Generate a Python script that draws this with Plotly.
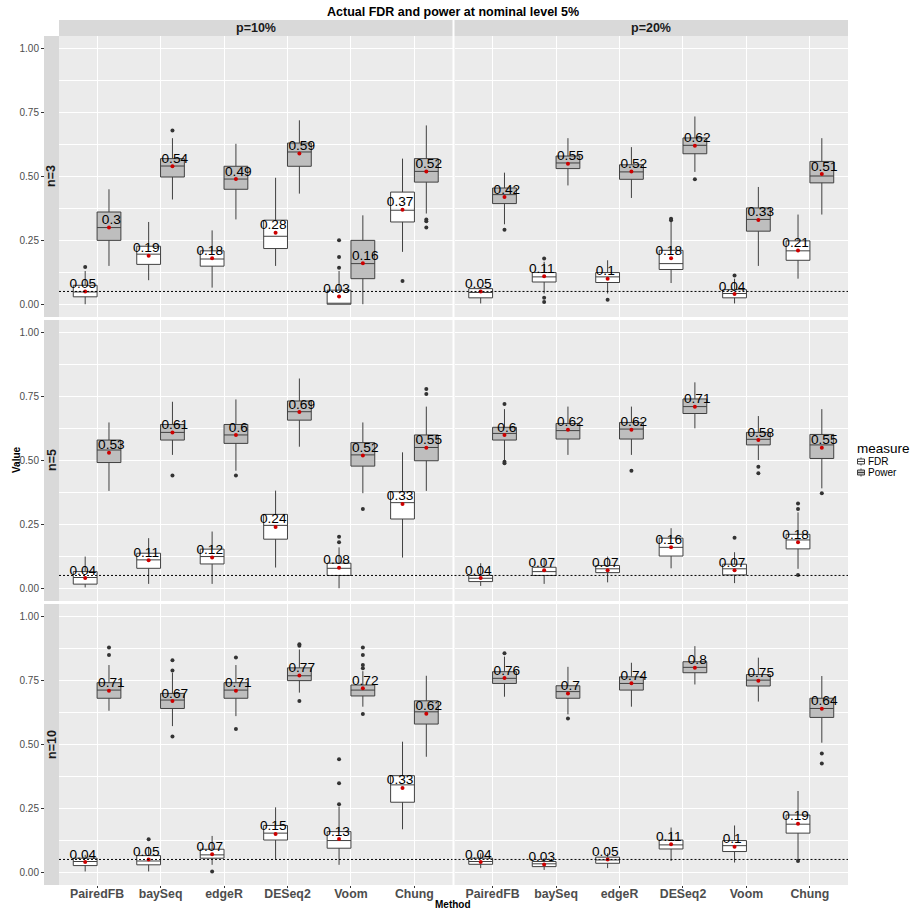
import plotly.graph_objects as go

methods = ["PairedFB", "baySeq", "edgeR", "DESeq2", "Voom", "Chung"]
row_labels = ["n=3", "n=5", "n=10"]
col_labels = ["p=10%", "p=20%"]
measures = ["FDR", "Power"]
y_tick_vals = [0.0, 0.25, 0.5, 0.75, 1.0]
y_minor_vals = [0.125, 0.375, 0.625, 0.875]
nominal_level = 0.05

# ---------------- n=3, p=10% ----------------
n3_p10_fdr_lo = [0.0, 0.094, 0.065, 0.15, 0.0, 0.205]
n3_p10_fdr_q1 = [0.029, 0.156, 0.149, 0.218, 0.0, 0.322]
n3_p10_fdr_med = [0.048, 0.196, 0.177, 0.266, 0.0, 0.368]
n3_p10_fdr_q3 = [0.074, 0.227, 0.209, 0.329, 0.055, 0.439]
n3_p10_fdr_hi = [0.13, 0.322, 0.289, 0.495, 0.13, 0.57]
n3_p10_fdr_mean = [0.05, 0.19, 0.18, 0.28, 0.03, 0.37]
n3_p10_fdr_out = [[0.146], [], [], [], [0.143, 0.185, 0.25], [0.091]]

n3_p10_pow_lo = [0.15, 0.41, 0.332, 0.433, 0.0, 0.355]
n3_p10_pow_q1 = [0.25, 0.498, 0.45, 0.54, 0.10, 0.478]
n3_p10_pow_med = [0.30, 0.541, 0.49, 0.596, 0.159, 0.52]
n3_p10_pow_q3 = [0.361, 0.57, 0.54, 0.631, 0.25, 0.57]
n3_p10_pow_hi = [0.45, 0.65, 0.628, 0.72, 0.348, 0.70]
n3_p10_pow_mean = [0.3, 0.54, 0.49, 0.59, 0.16, 0.52]
n3_p10_pow_out = [[], [0.68], [], [], [], [0.332, 0.325, 0.30]]

# ---------------- n=3, p=20% ----------------
n3_p20_fdr_lo = [0.003, 0.042, 0.042, 0.083, 0.003, 0.10]
n3_p20_fdr_q1 = [0.025, 0.087, 0.085, 0.136, 0.025, 0.172]
n3_p20_fdr_med = [0.046, 0.107, 0.107, 0.159, 0.042, 0.209]
n3_p20_fdr_q3 = [0.061, 0.124, 0.124, 0.211, 0.057, 0.248]
n3_p20_fdr_hi = [0.061, 0.166, 0.172, 0.322, 0.10, 0.351]
n3_p20_fdr_mean = [0.05, 0.11, 0.1, 0.18, 0.04, 0.21]
n3_p20_fdr_out = [[], [0.179, 0.025, 0.009], [0.018], [0.335, 0.329], [0.112], []]

n3_p20_pow_lo = [0.313, 0.465, 0.416, 0.518, 0.15, 0.351]
n3_p20_pow_q1 = [0.394, 0.531, 0.489, 0.589, 0.286, 0.475]
n3_p20_pow_med = [0.429, 0.553, 0.518, 0.622, 0.332, 0.502]
n3_p20_pow_q3 = [0.455, 0.58, 0.546, 0.651, 0.377, 0.559]
n3_p20_pow_hi = [0.515, 0.65, 0.615, 0.735, 0.459, 0.65]
n3_p20_pow_mean = [0.42, 0.55, 0.52, 0.62, 0.33, 0.51]
n3_p20_pow_out = [[0.292], [], [], [0.489], [], []]

# ---------------- n=5, p=10% ----------------
n5_p10_fdr_lo = [0.003, 0.017, 0.017, 0.081, 0.0, 0.12]
n5_p10_fdr_q1 = [0.016, 0.078, 0.095, 0.192, 0.05, 0.271]
n5_p10_fdr_med = [0.042, 0.111, 0.124, 0.246, 0.078, 0.335]
n5_p10_fdr_q3 = [0.065, 0.137, 0.153, 0.289, 0.098, 0.378]
n5_p10_fdr_hi = [0.124, 0.196, 0.222, 0.382, 0.16, 0.532]
n5_p10_fdr_mean = [0.04, 0.11, 0.12, 0.24, 0.08, 0.33]
n5_p10_fdr_out = [[], [], [], [], [0.18, 0.202], []]

n5_p10_pow_lo = [0.381, 0.522, 0.46, 0.554, 0.372, 0.381]
n5_p10_pow_q1 = [0.492, 0.58, 0.567, 0.658, 0.478, 0.499]
n5_p10_pow_med = [0.541, 0.61, 0.60, 0.691, 0.522, 0.551]
n5_p10_pow_q3 = [0.58, 0.641, 0.641, 0.733, 0.57, 0.60]
n5_p10_pow_hi = [0.649, 0.73, 0.739, 0.821, 0.649, 0.711]
n5_p10_pow_mean = [0.53, 0.61, 0.6, 0.69, 0.52, 0.55]
n5_p10_pow_out = [[], [0.441], [0.441], [], [0.31], [0.78, 0.76]]

# ---------------- n=5, p=20% ----------------
n5_p20_fdr_lo = [0.009, 0.017, 0.023, 0.078, 0.02, 0.076]
n5_p20_fdr_q1 = [0.026, 0.05, 0.061, 0.126, 0.052, 0.154]
n5_p20_fdr_med = [0.039, 0.065, 0.076, 0.16, 0.076, 0.189]
n5_p20_fdr_q3 = [0.05, 0.082, 0.089, 0.196, 0.094, 0.211]
n5_p20_fdr_hi = [0.098, 0.117, 0.124, 0.235, 0.141, 0.297]
n5_p20_fdr_mean = [0.04, 0.07, 0.07, 0.16, 0.07, 0.18]
n5_p20_fdr_out = [[], [], [], [], [0.198], [0.332, 0.31, 0.052]]

n5_p20_pow_lo = [0.50, 0.522, 0.522, 0.626, 0.502, 0.391]
n5_p20_pow_q1 = [0.58, 0.584, 0.584, 0.684, 0.561, 0.508]
n5_p20_pow_med = [0.606, 0.617, 0.623, 0.711, 0.583, 0.561]
n5_p20_pow_q3 = [0.63, 0.645, 0.649, 0.741, 0.61, 0.602]
n5_p20_pow_hi = [0.701, 0.711, 0.711, 0.806, 0.674, 0.701]
n5_p20_pow_mean = [0.6, 0.62, 0.62, 0.71, 0.58, 0.55]
n5_p20_pow_out = [[0.721, 0.495, 0.489], [], [0.46], [], [0.476, 0.45], [0.372]]

# ---------------- n=10, p=10% ----------------
n10_p10_fdr_lo = [0.003, 0.003, 0.029, 0.052, 0.029, 0.168]
n10_p10_fdr_q1 = [0.026, 0.029, 0.055, 0.126, 0.094, 0.274]
n10_p10_fdr_med = [0.042, 0.044, 0.068, 0.153, 0.124, 0.342]
n10_p10_fdr_q3 = [0.055, 0.065, 0.09, 0.183, 0.159, 0.378]
n10_p10_fdr_hi = [0.068, 0.10, 0.142, 0.254, 0.257, 0.511]
n10_p10_fdr_mean = [0.04, 0.05, 0.07, 0.15, 0.13, 0.33]
n10_p10_fdr_out = [[], [0.129], [0.003], [], [0.266, 0.348, 0.442], []]

n10_p10_pow_lo = [0.632, 0.572, 0.611, 0.703, 0.648, 0.452]
n10_p10_pow_q1 = [0.681, 0.641, 0.681, 0.75, 0.69, 0.58]
n10_p10_pow_med = [0.713, 0.674, 0.713, 0.769, 0.713, 0.628]
n10_p10_pow_q3 = [0.742, 0.70, 0.742, 0.80, 0.733, 0.671]
n10_p10_pow_hi = [0.811, 0.781, 0.811, 0.872, 0.787, 0.769]
n10_p10_pow_mean = [0.71, 0.67, 0.71, 0.77, 0.72, 0.62]
n10_p10_pow_out = [[0.88, 0.85], [0.83, 0.79, 0.531], [0.841, 0.561],
                   [0.892, 0.887, 0.67], [0.88, 0.85, 0.811, 0.798, 0.619], []]

# ---------------- n=10, p=20% ----------------
n10_p20_fdr_lo = [0.016, 0.009, 0.016, 0.044, 0.038, 0.048]
n10_p20_fdr_q1 = [0.031, 0.022, 0.035, 0.091, 0.081, 0.153]
n10_p20_fdr_med = [0.042, 0.033, 0.048, 0.107, 0.104, 0.188]
n10_p20_fdr_q3 = [0.055, 0.042, 0.059, 0.126, 0.124, 0.224]
n10_p20_fdr_hi = [0.074, 0.055, 0.074, 0.175, 0.183, 0.318]
n10_p20_fdr_mean = [0.04, 0.03, 0.05, 0.11, 0.1, 0.19]
n10_p20_fdr_out = [[], [], [], [], [], [0.044]]

n10_p20_pow_lo = [0.687, 0.618, 0.648, 0.735, 0.668, 0.507]
n10_p20_pow_q1 = [0.739, 0.681, 0.713, 0.781, 0.729, 0.606]
n10_p20_pow_med = [0.759, 0.707, 0.739, 0.802, 0.752, 0.641]
n10_p20_pow_q3 = [0.785, 0.73, 0.765, 0.824, 0.774, 0.681]
n10_p20_pow_hi = [0.844, 0.804, 0.82, 0.885, 0.84, 0.768]
n10_p20_pow_mean = [0.76, 0.7, 0.74, 0.8, 0.75, 0.64]
n10_p20_pow_out = [[0.857], [0.602], [], [], [], [0.465, 0.426]]

panels = [
    [  # n=3
        {"FDR": (n3_p10_fdr_lo, n3_p10_fdr_q1, n3_p10_fdr_med, n3_p10_fdr_q3, n3_p10_fdr_hi, n3_p10_fdr_mean, n3_p10_fdr_out),
         "Power": (n3_p10_pow_lo, n3_p10_pow_q1, n3_p10_pow_med, n3_p10_pow_q3, n3_p10_pow_hi, n3_p10_pow_mean, n3_p10_pow_out)},
        {"FDR": (n3_p20_fdr_lo, n3_p20_fdr_q1, n3_p20_fdr_med, n3_p20_fdr_q3, n3_p20_fdr_hi, n3_p20_fdr_mean, n3_p20_fdr_out),
         "Power": (n3_p20_pow_lo, n3_p20_pow_q1, n3_p20_pow_med, n3_p20_pow_q3, n3_p20_pow_hi, n3_p20_pow_mean, n3_p20_pow_out)},
    ],
    [  # n=5
        {"FDR": (n5_p10_fdr_lo, n5_p10_fdr_q1, n5_p10_fdr_med, n5_p10_fdr_q3, n5_p10_fdr_hi, n5_p10_fdr_mean, n5_p10_fdr_out),
         "Power": (n5_p10_pow_lo, n5_p10_pow_q1, n5_p10_pow_med, n5_p10_pow_q3, n5_p10_pow_hi, n5_p10_pow_mean, n5_p10_pow_out)},
        {"FDR": (n5_p20_fdr_lo, n5_p20_fdr_q1, n5_p20_fdr_med, n5_p20_fdr_q3, n5_p20_fdr_hi, n5_p20_fdr_mean, n5_p20_fdr_out),
         "Power": (n5_p20_pow_lo, n5_p20_pow_q1, n5_p20_pow_med, n5_p20_pow_q3, n5_p20_pow_hi, n5_p20_pow_mean, n5_p20_pow_out)},
    ],
    [  # n=10
        {"FDR": (n10_p10_fdr_lo, n10_p10_fdr_q1, n10_p10_fdr_med, n10_p10_fdr_q3, n10_p10_fdr_hi, n10_p10_fdr_mean, n10_p10_fdr_out),
         "Power": (n10_p10_pow_lo, n10_p10_pow_q1, n10_p10_pow_med, n10_p10_pow_q3, n10_p10_pow_hi, n10_p10_pow_mean, n10_p10_pow_out)},
        {"FDR": (n10_p20_fdr_lo, n10_p20_fdr_q1, n10_p20_fdr_med, n10_p20_fdr_q3, n10_p20_fdr_hi, n10_p20_fdr_mean, n10_p20_fdr_out),
         "Power": (n10_p20_pow_lo, n10_p20_pow_q1, n10_p20_pow_med, n10_p20_pow_q3, n10_p20_pow_hi, n10_p20_pow_mean, n10_p20_pow_out)},
    ],
]

# ---------------- styling / geometry ----------------
FONT = "Liberation Sans, Arial, Helvetica, sans-serif"
W, H = 912, 911
ML, MR, MT, MB = 44, 64, 20, 26
PW, PH = W - ML - MR, H - MT - MB

def fx(px):
    return (px - ML) / PW

def fy(py):
    return (H - MB - py) / PH

fill_colors = {"FDR": "#FFFFFF", "Power": "#BEBEBE"}
box_dodge = {"FDR": -0.1875, "Power": 0.1875}
text_dodge = {"FDR": -0.225, "Power": 0.225}
box_width = 0.375

col_dom = [(fx(59), fx(452.5)), (fx(454.5), 1.0)]
row_px = [(36 + r * 284, 36 + r * 284 + 281) for r in range(3)]
row_dom = [(fy(b), fy(t)) for (t, b) in row_px]

def label(v):
    s = f"{round(v, 2):.2f}".rstrip("0").rstrip(".")
    return s

fig = go.Figure()
layout = dict(
    width=W, height=H,
    margin=dict(l=ML, r=MR, t=MT, b=MB, autoexpand=False),
    paper_bgcolor="white", plot_bgcolor="#EBEBEB",
    font=dict(family=FONT, color="#000000"),
    showlegend=False,
    shapes=[], annotations=[],
)

for r in range(3):
    for c in range(2):
        k = r * 2 + c + 1
        xs = "x" if k == 1 else f"x{k}"
        ys = "y" if k == 1 else f"y{k}"
        xname = "xaxis" if k == 1 else f"xaxis{k}"
        yname = "yaxis" if k == 1 else f"yaxis{k}"
        bottom = (r == 2)
        layout[xname] = dict(
            domain=list(col_dom[c]), anchor=ys, range=[-0.6, 5.6],
            tickmode="array", tickvals=list(range(len(methods))), ticktext=methods,
            showticklabels=bottom, ticks="outside" if bottom else "", ticklen=2,
            ticklabelstandoff=-5 if bottom else 0,
            tickcolor="#333333", tickwidth=1,
            tickfont=dict(size=12.3, color="#4D4D4D", weight="bold", family=FONT),
            showgrid=True, gridcolor="#FFFFFF", gridwidth=1.1,
            zeroline=False, showline=False, fixedrange=True,
        )
        yax = dict(
            domain=list(row_dom[r]), range=[-0.05, 1.05],
            tickmode="array", tickvals=y_tick_vals, tickformat=".2f",
            showgrid=True, gridcolor="#FFFFFF", gridwidth=1.1,
            minor=dict(tickvals=y_minor_vals, showgrid=True, gridcolor="#FFFFFF", gridwidth=0.5),
            zeroline=False, showline=False, fixedrange=True,
            tickfont=dict(size=10, color="#4D4D4D", family=FONT),
        )
        if c == 0:
            yax.update(anchor="free", position=0, showticklabels=True, ticks="outside",
                       ticklen=3, tickcolor="#333333", tickwidth=1)
        else:
            yax.update(anchor=xs, showticklabels=False, ticks="")
        layout[yname] = yax

        for m in measures:
            lo, q1, med, q3, hi, mean, out = panels[r][c][m]
            xpos = [i + box_dodge[m] for i in range(len(methods))]
            fig.add_trace(go.Box(
                x=xpos, q1=q1, median=med, q3=q3, lowerfence=lo, upperfence=hi,
                width=box_width, whiskerwidth=0, boxpoints=False,
                fillcolor=fill_colors[m], line=dict(color="#404040", width=1),
                name=m, legendgroup=m, xaxis=xs, yaxis=ys, hoverinfo="skip",
            ))
        for m in measures:
            lo, q1, med, q3, hi, mean, out = panels[r][c][m]
            ox, oy = [], []
            for i, vals in enumerate(out):
                for v in vals:
                    ox.append(i + box_dodge[m])
                    oy.append(v)
            fig.add_trace(go.Scatter(
                x=ox, y=oy, mode="markers", marker=dict(size=4, color="#333333"),
                xaxis=xs, yaxis=ys, hoverinfo="skip", showlegend=False,
            ))
        for m in measures:
            mean = panels[r][c][m][5]
            fig.add_trace(go.Scatter(
                x=[i + box_dodge[m] for i in range(len(methods))], y=mean,
                mode="markers", marker=dict(size=4, color="#CD0000", symbol="circle"),
                xaxis=xs, yaxis=ys, hoverinfo="skip", showlegend=False,
            ))
        for m in measures:
            mean = panels[r][c][m][5]
            fig.add_trace(go.Scatter(
                x=[i + text_dodge[m] for i in range(len(methods))], y=mean,
                mode="text", text=[label(v) for v in mean], textposition="top center",
                textfont=dict(size=13.7, color="#000000", family=FONT),
                xaxis=xs, yaxis=ys, hoverinfo="skip", showlegend=False, cliponaxis=False,
            ))
        # nominal level reference line
        layout["shapes"].append(dict(
            type="line", xref=f"{xs} domain", x0=0, x1=1, yref=ys,
            y0=nominal_level, y1=nominal_level, layer="above",
            line=dict(color="#000000", width=1, dash="2px,2px"),
        ))

# strips
for c in range(2):
    layout["shapes"].append(dict(type="rect", xref="paper", yref="paper",
                                 x0=col_dom[c][0], x1=col_dom[c][1], y0=fy(36), y1=fy(20),
                                 fillcolor="#D9D9D9", line=dict(width=0), layer="below"))
    layout["annotations"].append(dict(text=col_labels[c], xref="paper", yref="paper",
                                      x=(col_dom[c][0] + col_dom[c][1]) / 2, y=fy(28),
                                      showarrow=False, xanchor="center", yanchor="middle",
                                      font=dict(size=12.5, color="#1A1A1A", weight="bold", family=FONT)))
for r in range(3):
    layout["shapes"].append(dict(type="rect", xref="paper", yref="paper",
                                 x0=0, x1=fx(59), y0=row_dom[r][0], y1=row_dom[r][1],
                                 fillcolor="#D9D9D9", line=dict(width=0), layer="below"))
    layout["annotations"].append(dict(text=row_labels[r], xref="paper", yref="paper",
                                      x=fx(51.5), y=(row_dom[r][0] + row_dom[r][1]) / 2,
                                      textangle=-90, showarrow=False, xanchor="center", yanchor="middle",
                                      font=dict(size=12.5, color="#1A1A1A", weight="bold", family=FONT)))

# title and axis titles
layout["annotations"].append(dict(text="Actual FDR and power at nominal level 5%", xref="paper", yref="paper",
                                  x=fx(453), y=fy(12), showarrow=False, xanchor="center", yanchor="middle",
                                  font=dict(size=12.5, color="#000000", weight="bold", family=FONT)))
layout["annotations"].append(dict(text="Method", xref="paper", yref="paper",
                                  x=fx(453), y=fy(904.5), showarrow=False, xanchor="center", yanchor="middle",
                                  font=dict(size=10, color="#000000", weight="bold", family=FONT)))
layout["annotations"].append(dict(text="Value", xref="paper", yref="paper",
                                  x=fx(16), y=fy(460), textangle=-90, showarrow=False,
                                  xanchor="center", yanchor="middle",
                                  font=dict(size=10, color="#000000", weight="bold", family=FONT)))

# legend (drawn as keys + text)
layout["annotations"].append(dict(text="measure", xref="paper", yref="paper",
                                  x=fx(855), y=fy(448.5), showarrow=False, xanchor="left", yanchor="middle",
                                  font=dict(size=13.5, color="#000000", family=FONT)))
for j, m in enumerate(measures):
    yc = 461.5 + j * 11
    layout["shapes"].append(dict(type="line", xref="paper", yref="paper",
                                 x0=fx(861), x1=fx(861), y0=fy(yc - 4), y1=fy(yc + 4),
                                 line=dict(color="#404040", width=1)))
    layout["shapes"].append(dict(type="rect", xref="paper", yref="paper",
                                 x0=fx(857.5), x1=fx(864.5), y0=fy(yc + 2.5), y1=fy(yc - 2.5),
                                 fillcolor=fill_colors[m], line=dict(color="#404040", width=1)))
    layout["shapes"].append(dict(type="line", xref="paper", yref="paper",
                                 x0=fx(857.5), x1=fx(864.5), y0=fy(yc), y1=fy(yc),
                                 line=dict(color="#404040", width=1)))
    layout["annotations"].append(dict(text=m, xref="paper", yref="paper",
                                      x=fx(865.5), y=fy(yc), showarrow=False, xanchor="left", yanchor="middle",
                                      font=dict(size=10, color="#000000", family=FONT)))

fig.update_layout(**layout)
fig.write_html("out.html")
